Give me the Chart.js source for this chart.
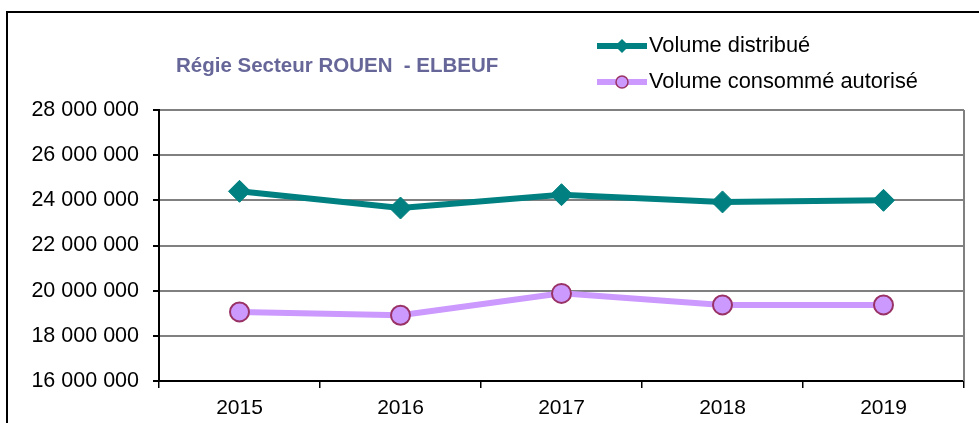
<!DOCTYPE html>
<html>
<head>
<meta charset="utf-8">
<script src="https://cdn.jsdelivr.net/npm/chart.js@4/dist/chart.umd.min.js"></script>
<style>
html,body{margin:0;padding:0;background:#fff;overflow:hidden;}
#wrap{position:relative;width:979px;height:423px;}
canvas{position:absolute;left:0;top:0;}
</style>
</head>
<body>
<div id="wrap"><canvas id="c" width="979" height="423"></canvas></div>
<script>
const years = ['2015', '2016', '2017', '2018', '2019'];
const volumeDistribue = [24400000, 23660000, 24250000, 23930000, 24000000];
const volumeConsomme = [19060000, 18910000, 19880000, 19370000, 19370000];
const seriesNames = ['Volume distribué', 'Volume consommé autorisé'];
const chartTitle = 'Régie Secteur ROUEN  - ELBEUF';
const yMin = 16000000, yMax = 28000000, yStep = 2000000;

const TEAL = '#008080', LILAC = '#CC99FF', PLUM = '#993366';
const FONT = "'Liberation Sans', Arial, sans-serif";

function fmt(v){
  return Math.round(v).toString().replace(/\B(?=(\d{3})+(?!\d))/g, ' ');
}

const decor = {
  id: 'decor',
  beforeDraw(chart){
    const ctx = chart.ctx;
    ctx.save();
    ctx.fillStyle = '#fff';
    ctx.fillRect(0,0,chart.width,chart.height);
    ctx.restore();
  },
  afterDraw(chart){
    const ctx = chart.ctx, a = chart.chartArea;
    ctx.save();
    // outer frame
    ctx.strokeStyle = '#000';
    ctx.lineWidth = 2;
    ctx.strokeRect(7, 12, 1000, 500);
    // right plot border
    ctx.strokeStyle = '#808080';
    ctx.lineWidth = 2;
    ctx.beginPath();
    ctx.moveTo(a.right, a.top);
    ctx.lineTo(a.right, a.bottom);
    ctx.stroke();
    // title
    ctx.fillStyle = '#666699';
    ctx.font = "bold 20.5px " + FONT;
    ctx.textBaseline = 'alphabetic';
    ctx.textAlign = 'left';
    ctx.fillText(chartTitle, 176, 72);
    // legend
    const items = [
      {name: seriesNames[0], color: TEAL, style: 'rectRot', r: 6, y: 46, fill: TEAL, border: TEAL},
      {name: seriesNames[1], color: LILAC, style: 'circle', r: 6, y: 82, fill: LILAC, border: PLUM}
    ];
    items.forEach(it => {
      ctx.strokeStyle = it.color;
      ctx.lineWidth = 6;
      ctx.beginPath();
      ctx.moveTo(597, it.y);
      ctx.lineTo(647, it.y);
      ctx.stroke();
      ctx.fillStyle = it.fill;
      ctx.strokeStyle = it.border;
      ctx.lineWidth = 1.5;
      Chart.helpers.drawPoint(ctx, {pointStyle: it.style, radius: it.r, borderWidth: 1.5}, 622, it.y);
      ctx.fillStyle = '#000';
      ctx.font = "21.8px " + FONT;
      ctx.textAlign = 'left';
      ctx.textBaseline = 'middle';
      ctx.fillText(it.name, 649, it.y);
    });
    ctx.restore();
  }
};

new Chart(document.getElementById('c'), {
  type: 'line',
  data: {
    labels: years,
    datasets: [
      {
        label: seriesNames[0],
        data: volumeDistribue,
        borderColor: TEAL,
        backgroundColor: TEAL,
        borderWidth: 6,
        pointStyle: 'rectRot',
        pointRadius: 11,
        pointBackgroundColor: TEAL,
        pointBorderColor: TEAL,
        pointBorderWidth: 1,
        tension: 0
      },
      {
        label: seriesNames[1],
        data: volumeConsomme,
        borderColor: LILAC,
        backgroundColor: LILAC,
        borderWidth: 6,
        pointStyle: 'circle',
        pointRadius: 9.5,
        pointBackgroundColor: LILAC,
        pointBorderColor: PLUM,
        pointBorderWidth: 2,
        tension: 0
      }
    ]
  },
  options: {
    responsive: false,
    animation: false,
    devicePixelRatio: 1,
    layout: {padding: {top: 110, right: 15, left: 0, bottom: 0}},
    plugins: {
      legend: {display: false},
      title: {display: false},
      tooltip: {enabled: false}
    },
    scales: {
      x: {
        offset: true,
        grid: {offset: true, drawOnChartArea: false, tickLength: 7, color: '#000', lineWidth: 1.5},
        border: {color: '#000', width: 2},
        ticks: {color: '#000', font: {family: FONT, size: 21}, padding: 8},
        afterFit(s){ s.height = 42; }
      },
      y: {
        min: yMin, max: yMax,
        grid: {color: '#808080', lineWidth: 2, tickLength: 6, tickColor: '#000'},
        border: {color: '#000', width: 2},
        ticks: {stepSize: yStep, color: '#000', font: {family: FONT, size: 21.5}, padding: 14, callback: v => fmt(v)},
        afterFit(s){ s.width = 159; }
      }
    }
  },
  plugins: [decor]
});
</script>
</body>
</html>
